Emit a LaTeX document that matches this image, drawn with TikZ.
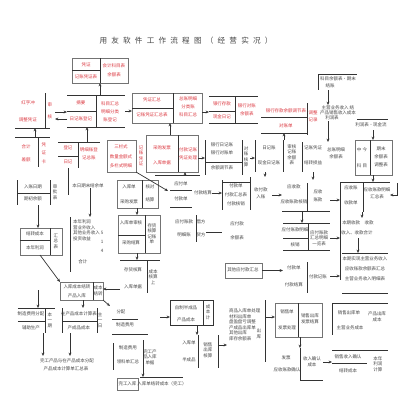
\documentclass[tikz,border=0pt]{standalone}
\usepackage{fontspec}
\setmainfont{Noto Sans CJK SC}
\usepackage{xcolor}
\usepackage{tikz}
\usetikzlibrary{arrows.meta, positioning, fit}

\definecolor{redtext}{HTML}{DC3A42}
\newcommand{\tgap}{\hspace{3pt}}

\begin{document}
\begin{tikzpicture}[
      x=0.025cm, y=-0.025cm,
      every node/.style={inner sep=0pt, outer sep=0pt},
      txt/.style={font=\fontsize{3.2}{3.9}\selectfont, text=black!72, align=center},
      rtxt/.style={txt, text=redtext},
      frm/.style={draw=black!55, line width=0.5pt},
      ln/.style={draw=black!80, line width=0.5pt},
      arr/.style={ln, -{Stealth[length=2.4pt, width=2pt]}}
    ]
      \useasboundingbox (0,0) rectangle (400,410);
      \fill[white] (0,0) rectangle (400,410);

      \node[txt, font=\fontsize{5.4}{6}\selectfont] (title) at (186,41)
        {用\tgap 友\tgap 软\tgap 件\tgap 工\tgap 作\tgap 流\tgap 程\tgap 图\tgap （\tgap 经\tgap 营\tgap 实\tgap 况\tgap ）};

      % red part: vouchers and books
      \node[frm, fit={(72,58)(128,83)}] (pz) {};
      \draw[ln] (pz.north) -- (pz.south);
      \draw[ln] (pz.west) -- (pz.center);
      \node[rtxt] (pz1) at (86,65) {凭证};
      \node[rtxt] (pz2) at (86,77) {记账凭证表};
      \node[rtxt] (pz3) at (114,66) {会计科目表};
      \node[rtxt] (pz4) at (114,75) {余额表};

      \node[fit={(67,95)(125,127)}] (hz) {};
      \draw[ln] (hz.north west) -- (hz.north east);
      \draw[ln] (hz.south west) -- (hz.south east);
      \draw[ln] (hz.north) -- (hz.south);
      \draw[ln] (hz.west) -- (hz.center);
      \node[rtxt] (hz1) at (81,103) {摘要};
      \node[rtxt] (hz2) at (81,119) {日记账登记};
      \node[rtxt] (hz3) at (110,104) {科目汇总};
      \node[rtxt] (hz4) at (110,112) {明细分类};
      \node[rtxt] (hz5) at (110,120) {账登记};

      \node[fit={(15,93)(55,128)}] (cx) {};
      \draw[ln] (45,93) -- (45,128);
      \draw[ln] (15,128) -- (50,128);
      \node[rtxt] (cx1) at (28,103) {红字冲};
      \node[rtxt] (cx2) at (28,120) {调整凭证};
      \node[rtxt] (cx3) at (50,105) {审};
      \node[rtxt] (cx4) at (50,117) {核};

      \node[fit={(15,137)(50,167)}] (c2) {};
      \draw[ln] (c2.north west) -- (c2.north east);
      \draw[ln] (38,137) -- (38,167);
      \node[rtxt] (c21) at (26,147) {合计};
      \node[rtxt] (c22) at (26,160) {差额};
      \node[rtxt] (c23) at (44,145) {凭};
      \node[rtxt] (c24) at (44,153) {证};
      \node[rtxt] (c25) at (44,162) {卡};

      \node[fit={(58,142)(100,168)}] (c3) {};
      \draw[ln] (c3.north west) -- (c3.north east);
      \draw[ln] (78,142) -- (78,168);
      \draw[ln] (58,156) -- (78,156);
      \node[rtxt] (c31) at (68,148) {登记};
      \node[rtxt] (c32) at (68,162) {日记};
      \node[rtxt] (c33) at (89,150) {明细账登};
      \node[rtxt] (c34) at (89,158) {记总账};

      \node[frm, fit={(107,140)(136,172)}] (c4) {};
      \node[rtxt] (c41) at (121,147) {三栏式};
      \node[rtxt] (c42) at (121,157) {数量金额式};
      \node[rtxt] (c43) at (121,166) {多栏式明细};
      \node[rtxt] (c44) at (141,156) {记\\账\\凭\\证};

      \node[frm, fit={(146,135)(198,172)}] (c5) {};
      \draw[ln] (178,135) -- (178,172);
      \node[rtxt] (c51) at (162,148) {采购发票};
      \node[rtxt] (c52) at (162,163) {入库单据};
      \node[rtxt] (c53) at (188,150) {付款记账};
      \node[rtxt] (c54) at (188,158) {凭证处理};

      \node[frm, fit={(132,93)(202,123)}] (d) {};
      \draw[ln] (173,93) -- (173,123);
      \draw[ln] (132,108) -- (173,108);
      \node[rtxt] (d1) at (152,100) {凭证汇总};
      \node[rtxt] (d2) at (152,115) {记账凭证汇总表};
      \node[rtxt] (d3) at (188,99) {总账明细};
      \node[rtxt] (d4) at (188,107) {分类账};
      \node[rtxt] (d5) at (188,115) {科目汇总};

      \node[fit={(209,96)(258,123)}] (e) {};
      \draw[ln] (e.north west) -- (e.north east);
      \draw[ln] (e.south west) -- (e.south east);
      \draw[ln] (235,96) -- (235,123);
      \draw[ln] (209,111) -- (235,111);
      \node[rtxt] (e1) at (222,104) {银行存款};
      \node[rtxt] (e2) at (222,117) {现金日记};
      \node[rtxt] (e3) at (247,106) {银行对账};
      \node[rtxt] (e4) at (247,114) {余额表};

      \node[fit={(260,103)(308,133)}] (f) {};
      \draw[ln] (261,117) -- (307,117);
      \draw[ln] (261,133) -- (307,133);
      \draw[ln] (307,103) -- (307,135);
      \node[rtxt] (f1) at (286,111) {银行存款余额调节表};
      \node[rtxt] (f2) at (286,126) {对账单};
      \node[rtxt] (f3) at (313,113) {调整};
      \node[rtxt] (f4) at (313,120) {记录};

      \draw[arr] (hz.north -| pz.south) -- (pz.south);
      \draw[arr] (cx.east |- 0,112) -- (hz.west |- 0,112);
      \draw[arr] (hz.west |- 0,119) -- (cx.east |- 0,119);
      \draw[arr] (hz.east) -- (d.west |- hz.east);
      \draw[arr] (d.east |- 0,112) -- (e.west |- 0,112);
      \draw[arr] (c2.north -| 35,0) -- (cx.south -| 35,0);
      \draw[arr] (c3.north -| 87,0) -- (hz.south -| 87,0);
      \draw[arr] (c5.north -| 170,0) -- (d.south -| 170,0);

      % top right: reports
      \node[fit={(318,74)(357,90)}] (g) {};
      \draw[ln] (g.north west) -- (g.north east);
      \draw[ln] (g.north west) -- (g.south west);
      \node[txt] (g1) at (338,79) {科目余额表·期末};
      \node[txt] (g2) at (330,86) {结账};

      \node[fit={(322,105)(355,121)}] (h) {};
      \node[txt] (h1) at (338,108) {主营业务收入\ 结};
      \node[txt] (h2) at (338,113) {产品销售收入成本};
      \node[txt] (h3) at (332,118) {利润表};

      \node[fit={(357,119)(388,130)}] (i) {};
      \draw[ln] (i.north west) -- (i.north east);
      \node[txt] (i1) at (371,125) {利润表·现金流};

      \node[frm, fit={(355,140)(392,175)}] (j) {};
      \draw[ln] (370,140) -- (370,175);
      \node[txt] (j1) at (362,150) {中\ 今};
      \node[txt] (j2) at (362,166) {科\ 目};
      \node[txt] (j3) at (381,149) {期末};
      \node[txt] (j4) at (381,157) {余额表};
      \node[txt] (j5) at (381,165) {调整表};

      \draw[arr] (g.south -| 328,0) -- (h.north -| 328,0);
      \draw[arr] (i.south -| 373,0) -- (j.north -| 373,0);

      % bank and ledger row
      \node[fit={(205,140)(250,175)}] (x1) {};
      \draw[ln] (205,140) -- (205,175);
      \draw[ln] (242,140) -- (242,175);
      \draw[ln] (205,162) -- (242,162);
      \node[txt] (x11) at (222,145) {银行日记账};
      \node[txt] (x12) at (222,153) {银行对账单};
      \node[txt] (x13) at (222,168) {余额调节表};
      \node[txt] (x14) at (246,157) {对\\账\\核\\算};

      \node[fit={(255,140)(300,172)}] (k) {};
      \draw[ln] (255,140) -- (255,172);
      \draw[ln] (283,140) -- (283,172);
      \node[txt] (k1) at (269,148) {日记账};
      \node[txt] (k2) at (269,163) {现金日记账};
      \node[txt] (k3) at (292,155) {审核\\记账\\余额\\表};

      \node[fit={(302,142)(345,172)}] (l) {};
      \draw[ln] (302,142) -- (302,172);
      \node[txt] (l1) at (313,148) {记账凭证};
      \node[txt] (l2) at (313,163) {结转损益};
      \node[txt] (l3) at (336,150) {总账明细};
      \node[txt] (l4) at (336,157) {余额表};

      \draw[arr] (c5.east |- 0,158) -- (x1.west |- 0,158);
      \draw[arr] (x1.east |- 0,158) -- (k.west |- 0,158);
      \draw[arr] (k.north -| 284,0) -- (f.south -| 284,0);
      \draw[arr] (h.south -| 328,0) -- (l.north -| 328,0);

      % purchase and payment
      \node[frm, fit={(117,180)(158,208)}] (v1) {};
      \draw[ln] (142,180) -- (142,208);
      \node[txt] (v11t) at (129,187) {入库单};
      \node[txt] (v12t) at (129,202) {采购发票};
      \node[txt] (v13t) at (150,187) {核对};
      \node[txt] (v14t) at (150,200) {结算};

      \node[fit={(168,175)(212,207)}] (v2) {};
      \draw[ln] (155,175) -- (200,175);
      \draw[ln] (170,190) -- (192,190);
      \draw[ln] (170,207) -- (192,207);
      \node[txt] (v21) at (181,184) {应付单};
      \node[txt] (v22) at (181,199) {付款单};
      \node[txt] (v23) at (203,193) {付款结算};

      \node[fit={(222,177)(272,210)}] (v4) {};
      \draw[ln] (222,180) -- (222,210);
      \draw[ln] (222,182) -- (250,182);
      \draw[ln] (250,177) -- (250,210);
      \node[txt] (v41) at (236,186) {付款单};
      \node[txt] (v42) at (236,195) {付款汇总表};
      \node[txt] (v43) at (236,204) {付款核销};
      \node[txt] (v44) at (261,190) {收付款};
      \node[txt] (v45) at (261,197) {入账};

      \node[fit={(282,180)(330,211)}] (v5) {};
      \draw[ln] (v5.south west) -- (v5.south east);
      \draw[ln] (307,183) -- (307,211);
      \node[txt] (v51) at (294,187) {应收款};
      \node[txt] (v52) at (294,202) {应收账款核销};
      \node[txt] (v53) at (318,192) {应收};
      \node[txt] (v54) at (318,200) {账款};

      \coordinate (bt) at (340,182);
      \coordinate (bb) at (340,280);
      \draw[ln] (bt) -- (bb);

      \node[fit={(340,182)(390,212)}] (v6) {};
      \draw[ln] (v6.north west) -- (v6.north east);
      \draw[ln] (363,182) -- (363,212);
      \node[txt] (v61) at (351,188) {应收账};
      \node[txt] (v62) at (351,203) {收款单};
      \node[txt] (v63) at (377,190) {应收账款明细};
      \node[txt] (v64) at (377,197) {汇总表};

      \node[fit={(340,218)(390,238)}] (ys) {};
      \node[txt] (ys1) at (358,223) {本期收款\quad 收款};
      \node[txt] (ys2) at (357,233) {收入、收款合计};

      \node[fit={(342,253)(388,293)}] (yb) {};
      \draw[ln] (yb.north west) -- (yb.north east);
      \draw[ln] (yb.south west) -- (yb.south east);
      \node[txt] (yb1) at (365,259) {本期实现主营业务收入};
      \node[txt] (yb2) at (365,269) {应收账款余额表汇总};
      \node[txt] (yb3) at (365,279) {主营业务收入明细表};

      \node[fit={(283,223)(330,250)}] (v7) {};
      \draw[ln] (v7.north west) -- (v7.north east);
      \draw[ln] (v7.south west) -- (v7.south east);
      \draw[ln] (308,223) -- (308,250);
      \draw[ln] (283,238) -- (308,238);
      \node[txt] (v71) at (295,230) {应付账款明细};
      \node[txt] (v72) at (295,245) {核销};
      \node[txt] (v73) at (319,238) {应付账款\\汇总明细\\一览表};

      \node[frm, fit={(225,263)(262,278)}] (qt) {};
      \node[txt] (qt1) at (243,270) {其他应付款汇总};

      \node[fit={(283,262)(330,293)}] (v8) {};
      \draw[ln] (307,262) -- (307,293);
      \node[txt] (v81) at (294,268) {付款单};
      \node[txt] (v82) at (294,285) {付款结算};
      \node[txt] (v83) at (318,277) {付款记账};

      \node[fit={(172,215)(206,242)}] (v9) {};
      \draw[ln] (196,215) -- (196,242);
      \node[txt] (v91) at (184,222) {应付账款};
      \node[txt] (v92) at (184,235) {明细账};
      \node[txt] (v93) at (201,222) {借方};
      \node[txt] (v94) at (201,235) {贷方};
      \node[fit={(222,217)(252,242)}] (v9b) {};
      \node[txt] (v95) at (237,224) {应付款};
      \node[txt] (v96) at (237,238) {余额表};

      \node[frm, fit={(118,215)(160,253)}] (v3) {};
      \draw[ln] (145,215) -- (145,253);
      \draw[ln] (118,235) -- (145,235);
      \node[txt] (v31) at (131,223) {入库单审核};
      \node[txt] (v32) at (131,243) {采购结算};
      \node[txt] (v33) at (152,234) {存货\\核算\\记账\\单};

      \node[fit={(120,260)(160,293)}] (v10) {};
      \draw[ln] (v10.north west) -- (v10.north east);
      \draw[ln] (147,260) -- (147,293);
      \node[txt] (v101) at (133,270) {存货核算};
      \node[txt] (v102) at (133,287) {入库单据};
      \node[txt] (v103) at (153,277) {成本\\核算\\上};

      \draw[arr] (c4.south east) -- (v2.west |- 0,191);
      \draw[arr] (v2.north -| 185,0) -- (c5.south -| 185,0);
      \draw[arr] (v2.east |- 0,193) -- (v4.west |- 0,193);
      \draw[arr] (v4.east |- 0,195) -- (v5.west |- 0,195);
      \draw[arr] (k.south -| 265,0) -- (v4.north -| 265,0);
      \draw[arr] (l.south -| 313,0) -- (v5.north -| 313,0);
      \draw[arr] (v5.east |- 0,200) -- (bt |- 0,200);
      \draw[arr] (j.south -| 373,0) -- (v6.north -| 373,0);
      \coordinate (rt) at (397,183);
      \draw[arr] (rt) |- (v6.east |- 0,195);
      \draw[arr] (v6.south -| 362,0) -- (ys.north -| 362,0);
      \draw[arr] (ys.south -| 358,0) -- (yb.north -| 358,0);
      \draw[arr] (v5.south -| 302,0) -- (v7.north -| 302,0);
      \draw[arr] (v7.east |- 0,238) -- (bt |- 0,238);
      \draw[arr] (qt.east) -- (v8.west |- qt.east);
      \draw[arr] (v8.east |- 0,276) -- (bt |- 0,276);
      \draw[ln] (v9.east |- 0,232) -- (v9b.west |- 0,232);
      \draw[arr] (v1.south -| 137,0) -- (v3.north -| 137,0);
      \draw[arr] (v3.south -| 137,0) -- (v10.north -| 137,0);

      % cost and profit
      \node[fit={(17,180)(60,205)}] (m) {};
      \draw[ln] (17,180) -- (17,205);
      \draw[ln] (50,180) -- (50,205);
      \draw[ln] (17,193) -- (50,193);
      \node[txt] (m1) at (33,187) {入账日期};
      \node[txt] (m2) at (33,199) {期初余额};
      \node[txt] (m3) at (55,192) {审\\批\\表};

      \node[frm, fit={(20,228)(62,255)}] (n) {};
      \draw[ln] (50,228) -- (50,255);
      \draw[ln] (20,240) -- (50,240);
      \node[txt] (n1) at (35,234) {结转成本};
      \node[txt] (n2) at (35,248) {本年利润};
      \node[txt] (n3) at (56,241) {汇\\总\\表};

      \node[txt] (jy) at (88,186) {本日期末结余单};
      \coordinate (c3e) at (68,195);
      \draw[ln] (c3.south -| c3e) -- (c3e);

      \node[fit={(70,217)(107,272)}] (q) {};
      \draw[ln] (70,217) -- (70,272);
      \node[txt, align=left, anchor=north west] (q1) at (73,220) {本年利润\\营业外收入\\其他业务收入\\投资收益};
      \node[txt] (q2) at (102,233) {5};
      \node[txt] (q3) at (102,242) {1};
      \node[txt] (q4) at (102,251) {4};
      \node[txt] (q5) at (83,262) {合计};

      \node[frm, fit={(60,282)(103,300)}] (p) {};
      \draw[ln] (93,282) -- (93,300);
      \node[txt] (p1) at (77,287) {入库成本结转};
      \node[txt] (p2) at (77,296) {产品入库};
      \node[txt] (p3) at (98,291) {成本\\结转};

      \node[fit={(18,308)(55,333)}] (s) {};
      \draw[ln] (s.north west) -- (s.north east);
      \draw[ln] (45,308) -- (45,333);
      \draw[ln] (18,321) -- (45,321);
      \node[txt] (s1) at (31,314) {制造费用分配};
      \node[txt] (s2) at (31,328) {辅助生产};
      \node[txt] (s3) at (50,320) {本\\一\\期};

      \node[fit={(62,308)(103,333)}] (r) {};
      \draw[ln] (62,308) -- (62,333);
      \draw[ln] (97,308) -- (97,333);
      \draw[ln] (62,321) -- (97,321);
      \node[txt] (r1) at (79,314) {在产品成本计算表};
      \node[txt] (r2) at (79,328) {产成品成本};
      \node[txt] (r3) at (100,320) {主\\一\\日};

      \node[fit={(42,356)(92,374)}] (wg) {};
      \node[txt] (wg1) at (67,361) {完工产品与在产品成本分配};
      \node[txt] (wg2) at (66,369) {产品成本计算单汇总表};

      \node[fit={(110,306)(140,330)}] (t) {};
      \draw[ln] (112,319) -- (138,319);
      \node[txt] (t1) at (121,312) {分配};
      \node[txt] (t2) at (125,325) {制造费用};

      \node[fit={(112,334)(157,372)}] (u) {};
      \draw[ln] (112,334) -- (148,334);
      \draw[ln] (113,343) -- (113,370);
      \draw[ln] (143,340) -- (143,372);
      \node[txt] (u1) at (128,348) {制造费用};
      \node[txt] (u2) at (128,362) {领料单汇总};
      \node[txt] (u3) at (150,357) {完工产\\品入库\\单据};

      \node[frm, fit={(117,378)(138,390)}] (wb) {};
      \node[txt] (wb1) at (127.5,384) {完工入库};
      \node[fit={(140,377)(183,390)}] (wj) {};
      \draw[ln] (wj.north west) -- (wj.north east);
      \node[txt] (wj1) at (162,384) {入库单结转成本（完工）};

      \node[frm, draw=black!80, fit={(170,300)(213,325)}] (v11) {};
      \draw[ln] (203,300) -- (203,325);
      \node[txt] (v111) at (186,308) {自制半成品};
      \node[txt] (v112) at (186,320) {产品成本};
      \node[txt] (v113) at (208,312) {成\\本\\计};

      \node[fit={(182,335)(218,368)}] (v12) {};
      \draw[ln] (198,335) -- (198,368);
      \draw[ln] (218,335) -- (218,368);
      \node[txt] (v121) at (189,343) {入库单};
      \node[txt] (v122) at (189,360) {半成品};
      \node[txt] (v123) at (208,350) {销售\\出库\\核算};

      \node[fit={(227,300)(265,362)}] (v13) {};
      \draw[ln] (265,300) -- (265,362);
      \node[txt, align=left, anchor=north west] (v131) at (229,309)
        {商品入库单处理\\材料出库单\\盘盈盘亏调整\\产成品出库单\\其他出库\\库存余额表};
      \node[txt] (v132) at (259,334) {出\\库};

      \node[frm, fit={(275,303)(322,337)}] (w2) {};
      \draw[ln] (298,303) -- (298,337);
      \node[txt] (w21) at (287,312) {销售单};
      \node[txt] (w22) at (287,328) {发票处理};
      \node[txt] (w23) at (310,319) {销售出库\\发票结算};

      \node[fit={(332,303)(388,335)}] (w3) {};
      \draw[ln] (w3.north west) -- (w3.north east);
      \draw[ln] (w3.north west) -- (w3.south west);
      \node[txt] (w31) at (349,313) {销售出库单};
      \node[txt] (w32) at (350,328) {主营业务成本};
      \node[txt] (w33) at (377,317) {产品出库\\成本};

      \node[fit={(273,348)(323,380)}] (w4) {};
      \draw[ln] (300,348) -- (300,380);
      \draw[ln] (300,380) -- (323,380);
      \node[txt] (w41) at (286,358) {发票};
      \node[txt] (w42) at (287,370) {应收账款确认};
      \node[txt] (w43) at (312,362) {收入确认\\成本};

      \node[fit={(332,350)(388,377)}] (w5) {};
      \draw[ln] (w5.north west) -- (w5.north east);
      \draw[ln] (332,363) -- (367,363);
      \node[txt] (w51) at (348,357) {销售收入确认};
      \node[txt] (w52) at (348,371) {结转成本};
      \node[txt] (w53) at (378,364) {本年\\利润\\计算};

      \draw[arr] (m.south -| 38,0) -- (n.north -| 38,0);
      \draw[arr] (jy.south -| 90,0) -- (q.north -| 90,0);
      \draw[arr] (n.south -| 40,0) -- (p.north west);
      \coordinate (sin) at (38,290);
      \draw[arr] (sin) -- (s.north -| sin);
      \draw[arr] (p.south -| 83,0) -- (r.north -| 83,0);
      \draw[arr] (s.south -| 43,0) -- (wg.north -| 43,0);
      \draw[arr] (r.south -| 70,0) -- (wg.north -| 70,0);
      \draw[arr] (v10.west |- 0,289) -- (p.east |- 0,289);
      \draw[arr] (p.south east) -- (t.north west);
      \draw[arr] (u.south -| 143,0) -- (wj.north -| 143,0);
      \coordinate (vin) at (160,317);
      \draw[arr] (vin) -- (v11.west |- vin);
      \draw[arr] (v11.south -| 197,0) -- (v12.north -| 197,0);
      \draw[arr] (v12.east |- 0,345) -- (v13.west |- 0,345);
      \draw[arr] (v13.east |- 0,317) -- (w2.west |- 0,317);
      \draw[arr] (w2.south -| 300,0) -- (w4.north -| 300,0);
      \draw[arr] (w4.east |- 0,362) -- (w5.west |- 0,362);
    \end{tikzpicture}
\end{document}
